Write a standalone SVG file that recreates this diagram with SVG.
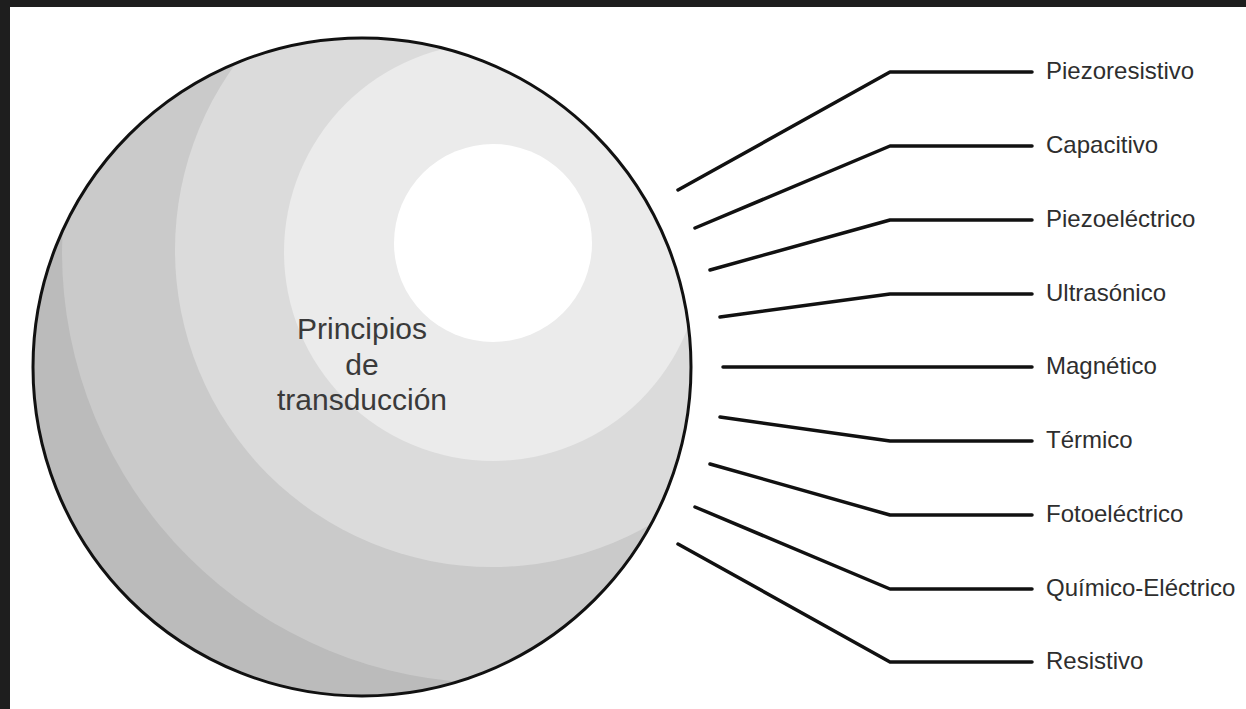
<svg xmlns="http://www.w3.org/2000/svg" width="1246" height="709" viewBox="0 0 1246 709">
  <style>
    .lbl { font-family: "Liberation Sans", Arial, sans-serif; font-size: 24px; fill: #2e2e2e; }
    .title { font-family: "Liberation Sans", Arial, sans-serif; font-size: 30px; fill: #3a3a3a; text-anchor: middle; }
    .conn { fill: none; stroke: #111; stroke-width: 3.5; stroke-linecap: round; stroke-linejoin: round; }
  </style>
  <defs>
    <clipPath id="sphereClip">
      <circle cx="362" cy="367" r="329"/>
    </clipPath>
  </defs>
  <rect x="0" y="0" width="1246" height="709" fill="#ffffff"/>
  <rect x="0" y="0" width="1246" height="7" fill="#1e1e1e"/>
  <rect x="0" y="0" width="10" height="709" fill="#1e1e1e"/>

  <g id="sphere">
    <circle cx="362" cy="367" r="329" fill="#bbbbbb"/>
    <g clip-path="url(#sphereClip)">
      <circle cx="493" cy="252" r="431" fill="#cacaca"/>
      <circle cx="492" cy="250" r="317" fill="#dbdbdb"/>
      <circle cx="493" cy="252" r="209" fill="#ebebeb"/>
      <circle cx="493" cy="243" r="99" fill="#ffffff"/>
    </g>
    <circle cx="362" cy="367" r="329" fill="none" stroke="#111" stroke-width="3"/>
    <text class="title" x="362" y="339">Principios</text>
    <text class="title" x="362" y="375">de</text>
    <text class="title" x="362" y="410">transducción</text>
  </g>

  <g id="connectors">
    <polyline class="conn" points="678,190 890,72 1032,72"/>
    <polyline class="conn" points="695,228 890,146 1032,146"/>
    <polyline class="conn" points="710,270 890,220 1032,220"/>
    <polyline class="conn" points="720,317 890,294 1032,294"/>
    <polyline class="conn" points="723,367 1032,367"/>
    <polyline class="conn" points="720,417 890,441 1032,441"/>
    <polyline class="conn" points="710,464 890,515 1032,515"/>
    <polyline class="conn" points="695,507 890,589 1032,589"/>
    <polyline class="conn" points="678,544 890,662 1032,662"/>
  </g>

  <g id="n-piezoresistivo"><text class="lbl" x="1046" y="79">Piezoresistivo</text></g>
  <g id="n-capacitivo"><text class="lbl" x="1046" y="153">Capacitivo</text></g>
  <g id="n-piezoelectrico"><text class="lbl" x="1046" y="227">Piezoeléctrico</text></g>
  <g id="n-ultrasonico"><text class="lbl" x="1046" y="301">Ultrasónico</text></g>
  <g id="n-magnetico"><text class="lbl" x="1046" y="374">Magnético</text></g>
  <g id="n-termico"><text class="lbl" x="1046" y="448">Térmico</text></g>
  <g id="n-fotoelectrico"><text class="lbl" x="1046" y="522">Fotoeléctrico</text></g>
  <g id="n-quimico"><text class="lbl" x="1046" y="596">Químico-Eléctrico</text></g>
  <g id="n-resistivo"><text class="lbl" x="1046" y="669">Resistivo</text></g>
</svg>
